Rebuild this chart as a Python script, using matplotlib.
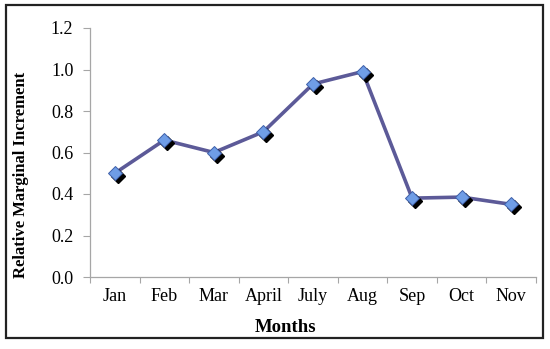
import matplotlib
matplotlib.use("Agg")
import matplotlib.pyplot as plt
import matplotlib.transforms as mtransforms
from matplotlib.patches import Rectangle
import numpy as np

months = ["Jan", "Feb", "Mar", "April", "July", "Aug", "Sep", "Oct", "Nov"]
increment = [0.50, 0.66, 0.60, 0.70, 0.93, 0.99, 0.38, 0.385, 0.35]
yticks = [0.0, 0.2, 0.4, 0.6, 0.8, 1.0, 1.2]

plt.rcParams["font.family"] = ["Liberation Serif", "DejaVu Serif"]

W, H = 550, 349
fig = plt.figure(figsize=(5.5, 3.49), dpi=100)
ax = fig.add_axes([90 / W, (H - 277) / H, (536 - 90) / W, (277 - 28) / H])

x = np.arange(len(months))
line_col = "#5c5a98"

ax.plot(x, increment, color=line_col, lw=2.6, zorder=2, solid_capstyle="round")

# drop shadow under the markers
shadow = mtransforms.offset_copy(ax.transData, fig=fig, x=3, y=-3, units="dots")
ax.plot(x, increment, ls="none", marker="D", ms=7, color="black",
        transform=shadow, zorder=3)
ax.plot(x, increment, ls="none", marker="D", ms=7, markerfacecolor="#6f9de6",
        markeredgecolor="#3e5fa8", markeredgewidth=0.7, zorder=4)

ax.set_xlim(-0.5, len(months) - 0.5)
ax.set_ylim(0, 1.2)

ax.set_yticks(yticks)
ax.set_yticklabels([f"{v:.1f}" for v in yticks])

ax.set_xticks(np.arange(-0.5, len(months), 1.0))
ax.set_xticklabels([])
ax.set_xticks(x, minor=True)
ax.set_xticklabels(months, minor=True)

ax.tick_params(axis="x", which="major", length=4, color="#a6a6a6", width=0.8)
ax.tick_params(axis="x", which="minor", length=0, pad=8, labelsize=13)
ax.tick_params(axis="y", length=5, color="#a6a6a6", width=0.8, pad=7, labelsize=13)

for s in ["top", "right"]:
    ax.spines[s].set_visible(False)
for s in ["left", "bottom"]:
    ax.spines[s].set_color("#a6a6a6")
    ax.spines[s].set_linewidth(0.9)

fig.text(21 / W, 1 - 175 / H, "Relative Marginal Increment", rotation=90,
         ha="center", va="center", fontsize=12, fontweight="bold")
fig.text(286 / W, 1 - 327 / H, "Months", ha="center", va="center",
         fontsize=13.5, fontweight="bold")

# outer frame
fig.patches.append(Rectangle((6 / W, 1 - 338 / H), (543 - 6) / W, (338 - 5) / H,
                             transform=fig.transFigure, fill=False,
                             edgecolor="#222222", lw=1.6))

fig.savefig("out.png", dpi=100)
